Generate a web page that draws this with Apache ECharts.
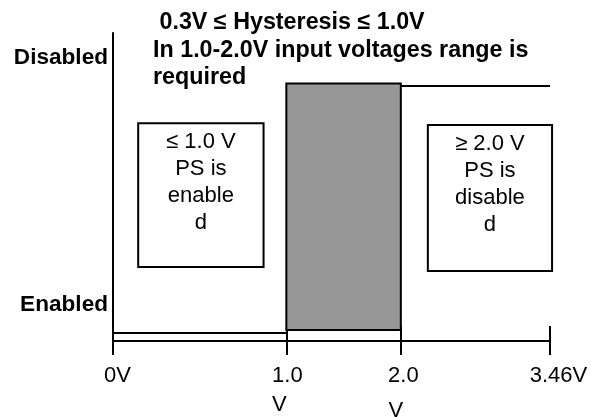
<!DOCTYPE html>
<html>
<head>
<meta charset="utf-8">
<script src="https://cdn.jsdelivr.net/npm/echarts@6/dist/echarts.min.js"></script>
<style>html,body{margin:0;padding:0;background:#fff;}#c{width:591px;height:417px;}</style>
</head>
<body>
<div id="c"></div>
<script>
// ---- data ----
const voltLabels = ['0V', '1.0\nV', '2.0\nV', '3.46V'];
const voltPos = [0, 1.514, 2.514, 3.817];          // schematic positions on the drawn axis
const stateLabels = ['Enabled', 'Disabled'];
const stateLevels = [0.26, 8.28];
const enabledLine = [[0, 0.26], [1.514, 0.26]];
const disabledLine = [[2.514, 8.28], [3.817, 8.28]];
const hysteresisBand = [[1.514, 2.514, 0.36, 8.36]];   // xFrom, xTo, yFrom, yTo
const noteTexts = ['\u2264 1.0 V\nPS is\nenable\nd', '\u2265 2.0 V\nPS is\ndisable\nd'];
const noteBoxes = [[0.22, 1.315, 2.40, 7.07, 0], [2.75, 3.835, 2.27, 7.01, 1]];
const titleText = ' 0.3V \u2264 Hysteresis \u2264 1.0V\nIn 1.0-2.0V input voltages range is\nrequired';

const FONT = '"Liberation Sans", Arial, sans-serif';
const chart = echarts.init(document.getElementById('c'), null, {renderer: 'canvas'});

function idxOf(arr, v) {
  for (let i = 0; i < arr.length; i++) if (Math.abs(arr[i] - v) < 1e-6) return i;
  return -1;
}
const base = {fontSize: 22, lineHeight: 29, color: '#000', fontFamily: FONT};
const rich = {
  a0: Object.assign({}, base, {padding: [0, 0, 0, 9]}),
  n1: Object.assign({}, base, {padding: [0, 0, 0, 2]}),
  v1: Object.assign({}, base, {padding: [0, 14, 0, 0]}),
  n2: Object.assign({}, base, {padding: [0, 0, 0, 5]}),
  v2: Object.assign({}, base, {padding: [0, 10, 0, 0], lineHeight: 41}),
  a3: Object.assign({}, base, {padding: [0, 0, 0, 17]})
};
const richKeys = [['a0'], ['n1', 'v1'], ['n2', 'v2'], ['a3']];

const option = {
  animation: false,
  backgroundColor: '#fff',
  title: {
    text: titleText,
    left: 148, top: 4,
    textStyle: {fontSize: 23.3, fontWeight: 'bold', lineHeight: 27.5, color: '#000', fontFamily: FONT}
  },
  grid: {left: 113, right: 41, top: 33, bottom: 76, containLabel: false, outerBoundsMode: 'none'},
  xAxis: [{
    type: 'value', min: 0, max: voltPos[voltPos.length - 1],
    splitLine: {show: false},
    axisLine: {show: true, onZero: false, lineStyle: {color: '#000', width: 2}},
    axisTick: {show: true, customValues: voltPos, length: 14, lineStyle: {color: '#000', width: 2}},
    axisLabel: {
      show: true, customValues: voltPos, margin: 20, rich: rich,
      formatter: function (v) {
        const i = idxOf(voltPos, v);
        if (i < 0) return '';
        const parts = voltLabels[i].split('\n');
        return parts.map((p, k) => '{' + richKeys[i][k] + '|' + p + '}').join('\n');
      }
    }
  }, {
    type: 'value', min: 0, max: voltPos[voltPos.length - 1], position: 'bottom',
    splitLine: {show: false},
    axisLine: {show: false, onZero: false},
    axisTick: {show: true, inside: true, customValues: voltPos, length: 15, lineStyle: {color: '#000', width: 2}},
    axisLabel: {show: false}
  }],
  yAxis: {
    type: 'value', min: 0, max: 10,
    splitLine: {show: false},
    axisLine: {show: true, onZero: false, lineStyle: {color: '#000', width: 2}},
    axisTick: {show: false},
    axisLabel: {
      show: true, customValues: stateLevels, margin: 5,
      fontSize: 22.6, fontWeight: 'bold', color: '#000', fontFamily: FONT,
      verticalAlign: 'bottom', lineHeight: 56,
      formatter: function (v) {
        const i = idxOf(stateLevels, v);
        return i < 0 ? '' : stateLabels[i];
      }
    }
  },
  series: [
    {
      type: 'custom', name: 'band', clip: false, z: 3,
      renderItem: function (params, api) {
        const p0 = api.coord([api.value(0), api.value(3)]);
        const p1 = api.coord([api.value(1), api.value(2)]);
        return {type: 'rect', shape: {x: p0[0], y: p0[1], width: p1[0] - p0[0], height: p1[1] - p0[1]},
          style: {fill: '#979797', stroke: '#000', lineWidth: 2}};
      },
      data: hysteresisBand
    },
    {type: 'line', data: enabledLine, symbol: 'none', lineStyle: {color: '#000', width: 2}, z: 2},
    {type: 'line', data: disabledLine, symbol: 'none', lineStyle: {color: '#000', width: 2}, z: 2},
    {
      type: 'custom', name: 'notes', clip: false, z: 4,
      renderItem: function (params, api) {
        const p0 = api.coord([api.value(0), api.value(3)]);
        const p1 = api.coord([api.value(1), api.value(2)]);
        const txt = noteTexts[api.value(4)];
        return {type: 'group', children: [
          {type: 'rect', shape: {x: p0[0], y: p0[1], width: p1[0] - p0[0], height: p1[1] - p0[1]},
            style: {fill: '#fff', stroke: '#000', lineWidth: 2}},
          {type: 'text', style: {text: txt, x: (p0[0] + p1[0]) / 2, y: p0[1] + 5.5,
            align: 'center', verticalAlign: 'top', fontSize: 22, lineHeight: 27, fontFamily: FONT, fill: '#000'}}
        ]};
      },
      data: noteBoxes
    }
  ]
};
chart.setOption(option);
</script>
</body>
</html>
